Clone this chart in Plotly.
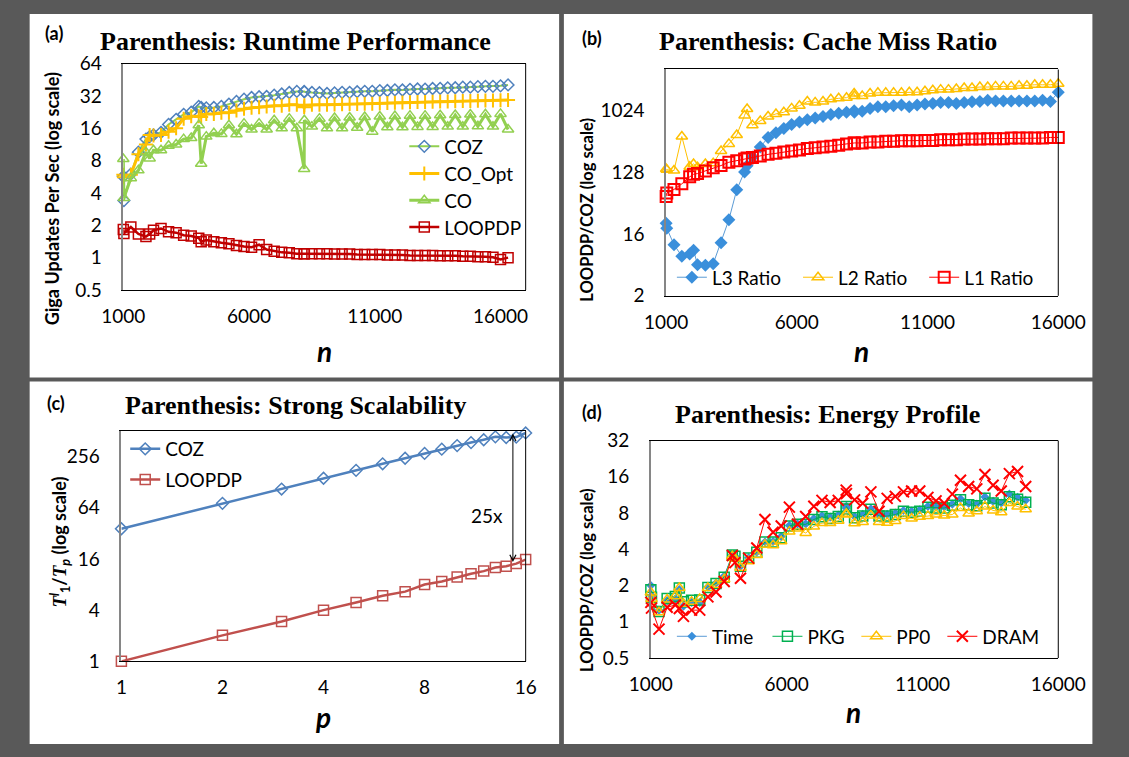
import math
import plotly.graph_objects as go

W, H = 1129, 757

# ---------------- data ----------------
# (a) runtime performance
n_a = [1000, 1024, 1300, 1600, 1900, 2048, 2200, 2500, 2800, 3100,
       3400, 3700, 4000, 4096, 4300, 4600, 4900, 5200, 5500, 5800,
       6100, 6400, 6700, 7000, 7300, 7600, 7900, 8192, 8200, 8500,
       8800, 9100, 9400, 9700, 10000, 10300, 10600, 10900, 11200, 11500,
       11800, 12100, 12400, 12700, 13000, 13300, 13600, 13900, 14200, 14500,
       14800, 15100, 15400, 15700, 16000, 16300]
coz_a = [5.7, 3.4, 6.0, 9.6, 12.7, 13.4, 13.9, 14.7, 17.4, 19.4,
         21.6, 22.6, 25.6, 25.0, 24.8, 25.0, 25.6, 26.9, 28.5, 29.9,
         31.0, 31.5, 31.7, 32.6, 33.4, 34.5, 35.3, 35.3, 35.0, 34.5,
         34.3, 33.8, 34.2, 34.6, 34.6, 35.1, 35.4, 35.4, 35.9, 36.0,
         36.5, 36.4, 36.9, 37.2, 37.1, 37.6, 37.7, 38.1, 38.2, 38.7,
         38.7, 39.1, 39.4, 39.4, 39.8, 40.6]
co_opt_a = [5.9, 5.6, 5.9, 9.2, 11.3, 13.9, 13.7, 13.9, 14.9, 16.0,
            19.7, 20.7, 20.7, 20.4, 21.8, 21.8, 22.3, 22.3, 23.4, 24.3,
            24.9, 25.1, 25.6, 26.0, 26.0, 26.5, 26.5, 25.2, 26.2, 26.5,
            26.5, 26.6, 26.7, 26.8, 26.9, 27.0, 27.1, 27.1, 27.3, 27.5,
            27.7, 27.9, 28.0, 28.1, 28.2, 28.3, 28.4, 28.5, 28.6, 28.7,
            28.8, 28.9, 29.0, 29.1, 29.2, 29.3]
co_a = [8.3, 3.6, 5.5, 6.5, 9.6, 8.4, 10.0, 10.0, 11.0, 11.3,
        12.7, 13.0, 17.1, 7.5, 13.4, 14.4, 14.2, 17.1, 14.1, 17.7,
        15.6, 17.7, 15.6, 19.0, 16.0, 19.7, 16.0, 6.7, 19.0, 16.6,
        19.7, 16.0, 20.0, 16.0, 20.2, 16.2, 20.4, 14.9, 20.6, 16.4,
        20.8, 16.4, 21.0, 16.5, 21.0, 16.5, 21.2, 16.6, 21.3, 16.6,
        21.5, 16.7, 21.6, 16.6, 21.8, 15.6]
loop_a = [1.83, 1.68, 1.93, 1.66, 1.57, 1.66, 1.80, 1.87, 1.74, 1.71,
          1.62, 1.59, 1.52, 1.41, 1.46, 1.41, 1.38, 1.35, 1.30, 1.27,
          1.25, 1.32, 1.19, 1.15, 1.12, 1.11, 1.09, 1.09, 1.09, 1.09,
          1.09, 1.09, 1.08, 1.08, 1.08, 1.07, 1.07, 1.07, 1.07, 1.06,
          1.06, 1.06, 1.05, 1.05, 1.05, 1.05, 1.04, 1.04, 1.04, 1.03,
          1.03, 1.02, 1.02, 1.01, 0.96, 1.00]

# (b) cache miss ratio
n_b = [1000, 1024, 1300, 1600, 1900, 2048, 2200, 2500, 2800, 3100,
       3400, 3700, 4000, 4096, 4300, 4600, 4900, 5200, 5500, 5800,
       6100, 6400, 6700, 7000, 7300, 7600, 7900, 8192, 8200, 8500,
       8800, 9100, 9400, 9700, 10000, 10300, 10600, 10900, 11200, 11500,
       11800, 12100, 12400, 12700, 13000, 13300, 13600, 13900, 14200, 14500,
       14800, 15100, 15400, 15700, 16000]
l3_b = [23, 19.5, 11.2, 7.6, 8.2, 9.3, 5.7, 5.6, 5.9, 12.0,
        26, 71, 130, 160, 215, 300, 416, 488, 563, 644,
        700, 756, 798, 843, 899, 941, 970, 1024, 970, 1003,
        1105, 1170, 1170, 1210, 1237, 1170, 1237, 1278, 1307, 1353,
        1353, 1307, 1353, 1382, 1392, 1451, 1420, 1420, 1420, 1420,
        1420, 1420, 1451, 1392, 1908]
l2_b = [144, 140, 136, 428, 155, 170, 152, 170, 174, 263,
        334, 452, 873, 1083, 626, 724, 843, 917, 970, 1105,
        1210, 1392, 1353, 1392, 1499, 1552, 1585, 1820, 1675, 1675,
        1824, 1865, 1865, 1865, 1865, 1906, 1906, 1969, 2035, 2080,
        2080, 2124, 2196, 2196, 2270, 2270, 2319, 2319, 2319, 2370,
        2370, 2449, 2449, 2449, 2530]
l1_b = [57, 64, 72, 87, 110, 120, 123, 134, 149, 161,
        180, 190, 200, 207, 211, 223, 235, 243, 254, 263,
        271, 286, 293, 302, 309, 319, 333, 345, 345, 345,
        356, 356, 364, 364, 372, 372, 372, 376, 376, 385,
        385, 385, 393, 393, 393, 397, 397, 397, 406, 406,
        406, 406, 406, 415, 415]

# (c) strong scalability
p_c = [1, 2, 3, 4, 5, 6, 7, 8, 9, 10, 11, 12, 13, 14, 15, 16]
coz_c = [36.2, 72, 106, 142, 176, 210, 244, 278, 312, 344, 373, 403, 436, 428, 433, 484]
loop_c = [1.0, 2.02, 2.94, 4.0, 4.93, 5.9, 6.6, 8.0, 8.7, 9.8, 10.7, 11.5, 12.7, 13.1, 14.1, 15.7]
gap_p = 14.66          # where the "25x" gap arrow is drawn
gap_top, gap_bottom = 477, 14.1

# (d) energy profile
n_d = [1000, 1024, 1300, 1600, 1900, 2048, 2200, 2500, 2800, 3100,
       3400, 3700, 4000, 4096, 4300, 4600, 4900, 5200, 5500, 5800,
       6100, 6400, 6700, 7000, 7300, 7600, 7900, 8192, 8200, 8500,
       8800, 9100, 9400, 9700, 10000, 10300, 10600, 10900, 11200, 11500,
       11800, 12100, 12400, 12700, 13000, 13300, 13600, 13900, 14200, 14500,
       14800]
time_d = [2.0, 1.65, 1.25, 1.5, 1.55, 1.85, 1.35, 1.45, 1.45, 1.95,
          2.1, 2.4, 3.6, 3.5, 2.9, 3.4, 3.8, 4.6, 4.65, 5.1,
          6.3, 6.5, 6.5, 7.2, 7.6, 7.4, 7.7, 8.8, 9.1, 7.5,
          7.8, 8.7, 7.7, 7.8, 8.0, 8.4, 8.3, 8.5, 9.1, 9.0,
          9.0, 9.5, 10.5, 9.6, 9.5, 10.9, 10.0, 9.7, 11.5, 10.8,
          10.2]
pkg_d = [1.85, 1.6, 1.22, 1.56, 1.62, 1.91, 1.47, 1.51, 1.52, 1.93,
         2.08, 2.35, 3.58, 3.5, 2.89, 3.38, 3.79, 4.6, 4.6, 5.0,
         6.26, 6.45, 6.45, 7.08, 7.45, 7.2, 7.5, 8.64, 9.06, 7.31,
         7.55, 8.60, 7.55, 7.55, 7.78, 8.27, 8.13, 8.27, 8.93, 8.81,
         8.81, 9.27, 10.3, 9.38, 9.21, 10.6, 9.68, 9.38, 10.95, 10.4,
         9.86]
pp0_d = [1.75, 1.55, 1.2, 1.53, 1.63, 1.91, 1.41, 1.47, 1.55, 1.91,
         2.03, 2.26, 3.5, 3.35, 2.81, 3.19, 3.59, 4.36, 4.33, 4.66,
         5.61, 5.95, 5.46, 6.2, 6.6, 6.6, 6.9, 7.9, 7.78, 6.58,
         6.74, 7.63, 6.74, 6.66, 6.87, 7.55, 7.20, 7.47, 7.55, 7.78,
         7.63, 7.78, 8.81, 7.93, 8.27, 9.06, 8.42, 8.13, 9.68, 9.06,
         8.60]
dram_d = [1.45, 1.3, 0.87, 1.32, 1.38, 1.29, 1.11, 1.25, 1.25, 1.61,
          1.77, 2.16, 3.55, 3.1, 2.3, 3.38, 4.1, 7.08, 5.54, 6.25,
          8.96, 6.45, 7.5, 9.1, 10.2, 9.8, 10.2, 12.4, 11.6, 10.3,
          9.64, 12.0, 8.27, 10.6, 11.0, 12.0, 12.2, 12.2, 10.8, 10.1,
          9.64, 11.5, 15.0, 13.3, 12.7, 16.7, 13.6, 12.2, 17.0, 17.7,
          13.3]

# tick labels
ticks_n = [1000, 6000, 11000, 16000]
ticks_a_y = [0.5, 1, 2, 4, 8, 16, 32, 64]
ticks_b_y = [2, 16, 128, 1024]
ticks_c_x = [1, 2, 4, 8, 16]
ticks_c_y = [1, 4, 16, 64, 256]
ticks_d_y = [0.5, 1, 2, 4, 8, 16, 32]

# ---------------- layout helpers ----------------
SANS = "Lato"
SERIF = "Liberation Serif"


def fx(px):
    return px / W


def fy(py):
    return 1 - py / H


fig = go.Figure()

# subplot rectangles in pixels: (x0, x1, y0, y1)
boxes = {
    1: (106, 527, 53.3, 286.7),
    2: (674, 1084.3, 59.3, 292.7),
    3: (104, 527, 432, 669.7),
    4: (658, 1084.3, 442, 666.3),
}

tickfont = dict(family=SANS, size=19, color="black")


def fmt(v):
    return ("%g" % v)


def set_axes(i, xtype, xrange, xticks, yrange, yticks):
    x0, x1, y0, y1 = boxes[i]
    sx = "" if i == 1 else str(i)
    fig.layout["xaxis" + sx] = dict(
        domain=[fx(x0), fx(x1)], anchor="y" + sx, type=xtype, range=xrange,
        tickvals=xticks, ticktext=[fmt(v) for v in xticks], ticks="",
        showgrid=False, zeroline=False, showline=True, mirror=True,
        linecolor="black", linewidth=1, tickfont=tickfont,
        ticklabelstandoff=9, fixedrange=True)
    fig.layout["yaxis" + sx] = dict(
        domain=[fy(y1), fy(y0)], anchor="x" + sx, type="log", range=yrange,
        tickvals=yticks, ticktext=[fmt(v) for v in yticks], ticks="",
        showgrid=False, zeroline=False, showline=True, linecolor="#868686",
        linewidth=1.5, tickfont=tickfont, ticklabelstandoff=16, fixedrange=True)
    # right border of the plot area
    fig.add_shape(type="line", xref="x%s domain" % sx, yref="y%s domain" % sx,
                  x0=1, x1=1, y0=0, y1=1, line=dict(color="black", width=1),
                  layer="above")


set_axes(1, "linear", [1000, 17000], ticks_n, [math.log10(0.5), math.log10(64)], ticks_a_y)
set_axes(2, "linear", [1000, 16000], ticks_n, [math.log10(2), math.log10(4096)], ticks_b_y)
set_axes(3, "log", [0, math.log10(16)], ticks_c_x, [0, math.log10(512)], ticks_c_y)
set_axes(4, "linear", [1000, 16000], ticks_n, [math.log10(0.5), math.log10(32)], ticks_d_y)

legend_count = [0]


def add(i, x, y, name, lcolor, lwidth, symbol, msize, mcolor, mlw, text_x, text_y):
    legend_count[0] += 1
    k = legend_count[0]
    lname = "legend" if k == 1 else "legend%d" % k
    sx = "" if i == 1 else str(i)
    fig.add_trace(go.Scatter(
        x=x, y=y, name=name, mode="lines+markers", xaxis="x" + sx, yaxis="y" + sx,
        line=dict(color=lcolor, width=lwidth),
        marker=dict(symbol=symbol, size=msize, color=mcolor,
                    line=dict(color=mcolor, width=mlw)),
        cliponaxis=False, legend=lname, showlegend=True))
    fig.layout[lname] = dict(
        x=fx(text_x - 40), y=fy(text_y - 4), xanchor="left", yanchor="middle",
        bgcolor="rgba(0,0,0,0)", borderwidth=0, orientation="v",
        font=dict(family=SANS, size=19, color="black"), itemclick=False,
        itemdoubleclick=False)


# (a)
add(1, n_a, coz_a, "COZ", "#92D050", 2, "diamond-open", 9, "#4F81BD", 1.5, 440, 142.7)
add(1, n_a, co_opt_a, "CO_Opt", "#FFC000", 3, "cross-thin-open", 10, "#FFC000", 2, 440, 170.7)
add(1, n_a, co_a, "CO", "#92D050", 3, "triangle-up-open", 10, "#92D050", 1.5, 440, 198.3)
add(1, n_a, loop_a, "LOOPDP", "#C00000", 2.5, "square-open", 10, "#C00000", 1.5, 440, 226)
# (b)
add(2, n_b, l3_b, "L3 Ratio", "#5B9BD5", 1, "diamond", 10, "#3A8FDB", 0, 720, 277.7)
add(2, n_b, l2_b, "L2 Ratio", "#FFC000", 1, "triangle-up-open", 10, "#FFC000", 1.5, 852, 277.7)
add(2, n_b, l1_b, "L1 Ratio", "#FF0000", 1, "square-open", 11, "#FF0000", 2, 984, 277.7)
# (c)
add(3, p_c, coz_c, "COZ", "#4F81BD", 2.5, "diamond-open", 9, "#4F81BD", 1.5, 148, 454.7)
add(3, p_c, loop_c, "LOOPDP", "#C0504D", 2.5, "square-open", 10, "#C0504D", 1.5, 148, 486.3)
# (d)
add(4, n_d, time_d, "Time", "#5B9BD5", 1, "diamond", 7, "#3A8FDB", 0, 720, 648)
add(4, n_d, pkg_d, "PKG", "#00B050", 1, "square-open", 10, "#00B050", 1.5, 820, 648)
add(4, n_d, pp0_d, "PP0", "#FFC000", 1, "triangle-up-open", 10, "#FFC000", 1.5, 913, 648)
add(4, n_d, dram_d, "DRAM", "#FF0000", 1, "x-thin-open", 11, "#FF0000", 2, 1003, 648)

# panel backgrounds (gray frame around white panels)
for (x0, x1, y0, y1) in [(8, 562, 2, 377), (567, 1120, 2, 377), (8, 562, 381, 755), (567, 1120, 381, 755)]:
    fig.add_shape(type="rect", xref="paper", yref="paper", x0=fx(x0), x1=fx(x1),
                  y0=fy(y1), y1=fy(y0), line=dict(width=0), fillcolor="white", layer="below")


def text(px, py, s, size, family=SANS, angle=0, color="black"):
    fig.add_annotation(xref="paper", yref="paper", x=fx(px), y=fy(py), text=s,
                       showarrow=False, xanchor="center", yanchor="middle", textangle=angle,
                       font=dict(family=family, size=size, color=color))


# titles
text(286, 30, "<b>Parenthesis: Runtime Performance</b>", 26, SERIF)
text(843.5, 30, "<b>Parenthesis: Cache Miss Ratio</b>", 26, SERIF)
text(286, 406, "<b>Parenthesis: Strong Scalability</b>", 26, SERIF)
text(843, 415, "<b>Parenthesis: Energy Profile</b>", 26, SERIF)
# panel labels
text(33, 22, "<b>(a)</b>", 18)
text(596, 27, "<b>(b)</b>", 18)
text(36, 403, "<b>(c)</b>", 18)
text(596, 413, "<b>(d)</b>", 18)
# y titles
text(31.5, 193, "<b>Giga Updates Per Sec (log scale)</b>", 18, angle=-90)
text(591, 204, "<b>LOOPDP/COZ (log scale)</b>", 16.5, angle=-90)
text(40, 547, "<b><span style='font-family:Liberation Serif;font-size:19px'><i>T</i></span>"
     "<sup><i>l</i></sup><sub>1</sub>"
     "/<span style='font-family:Liberation Serif;font-size:19px'><i>T</i></span>"
     "<sub><i>p</i></sub> (log scale)</b>", 18, angle=-90)
text(591, 586, "<b>LOOPDP/COZ (log scale)</b>", 16.5, angle=-90)
# x titles
text(316, 350, "<b><i>n</i></b>", 28)
text(878, 350, "<b><i>n</i></b>", 28)
text(315, 727, "<b><i>p</i></b>", 28)
text(870, 722, "<b><i>n</i></b>", 28)

# 25x annotation with double arrow
fig.add_annotation(xref="x3", yref="y3", x=math.log10(gap_p), y=math.log10(gap_top),
                   axref="x3", ayref="y3", ax=math.log10(gap_p), ay=math.log10(gap_bottom),
                   showarrow=True, arrowside="end+start", arrowhead=5, startarrowhead=5,
                   arrowsize=1.2, startarrowsize=1.2,
                   arrowwidth=1, arrowcolor="black", text="")
text(486.5, 519, "25x", 19)

fig.update_layout(
    width=W, height=H, margin=dict(l=0, r=0, t=0, b=0),
    paper_bgcolor="#595959", plot_bgcolor="white", showlegend=True,
)

fig.write_html("out.html")
